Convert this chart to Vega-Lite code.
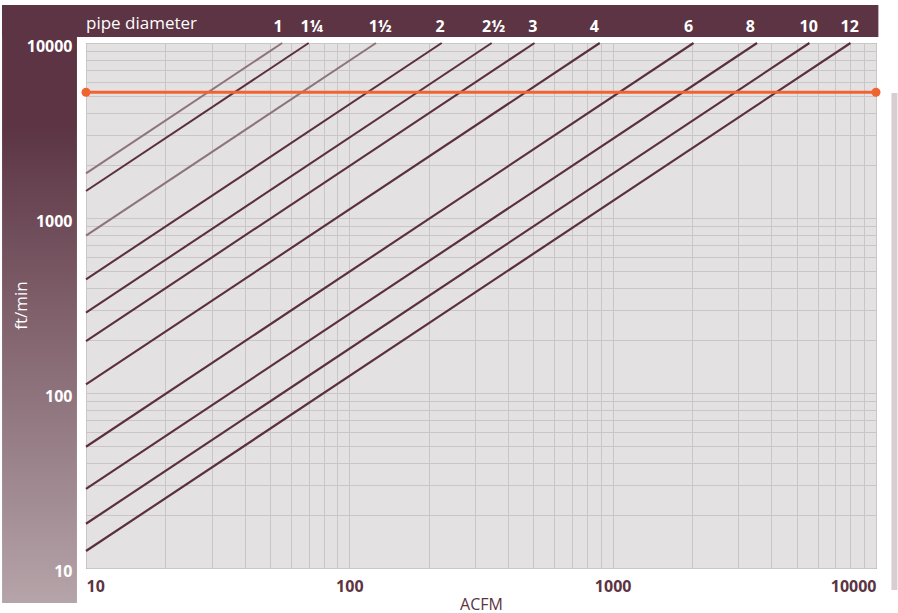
{
  "$schema": "https://vega.github.io/schema/vega-lite/v6.json",
  "width": 790,
  "height": 525,
  "autosize": {"type": "none"},
  "padding": {"left": 86, "top": 43, "right": 22, "bottom": 45},
  "background": "white",
  "config": {
    "font": "Open Sans",
    "view": {"fill": "#e4e1e2", "stroke": "#8e6f79", "strokeWidth": 1}
  },
  "resolve": {"axis": {"y": "independent"}},
  "datasets": {
    "lines": [
      {"pipe": "1", "acfm": 10, "fpm": 1800}, {"pipe": "1", "acfm": 55.6, "fpm": 10000},
      {"pipe": "1¼", "acfm": 10, "fpm": 1427}, {"pipe": "1¼", "acfm": 70.1, "fpm": 10000},
      {"pipe": "1½", "acfm": 10, "fpm": 792}, {"pipe": "1½", "acfm": 126.3, "fpm": 10000},
      {"pipe": "2", "acfm": 10, "fpm": 446}, {"pipe": "2", "acfm": 224.2, "fpm": 10000},
      {"pipe": "2½", "acfm": 10, "fpm": 288}, {"pipe": "2½", "acfm": 347.2, "fpm": 10000},
      {"pipe": "3", "acfm": 10, "fpm": 198}, {"pipe": "3", "acfm": 505, "fpm": 10000},
      {"pipe": "4", "acfm": 10, "fpm": 112}, {"pipe": "4", "acfm": 893, "fpm": 10000},
      {"pipe": "6", "acfm": 10, "fpm": 49.3}, {"pipe": "6", "acfm": 2028, "fpm": 10000},
      {"pipe": "8", "acfm": 10, "fpm": 28.3}, {"pipe": "8", "acfm": 3534, "fpm": 10000},
      {"pipe": "10", "acfm": 10, "fpm": 17.9}, {"pipe": "10", "acfm": 5587, "fpm": 10000},
      {"pipe": "12", "acfm": 10, "fpm": 12.5}, {"pipe": "12", "acfm": 8000, "fpm": 10000}
    ],
    "labels": [
      {"pipe": "1", "acfm": 53.6}, {"pipe": "1¼", "acfm": 72}, {"pipe": "1½", "acfm": 131},
      {"pipe": "2", "acfm": 221}, {"pipe": "2½", "acfm": 353}, {"pipe": "3", "acfm": 498},
      {"pipe": "4", "acfm": 851}, {"pipe": "6", "acfm": 1941}, {"pipe": "8", "acfm": 3336},
      {"pipe": "10", "acfm": 5554}, {"pipe": "12", "acfm": 7943}
    ],
    "limit": [{"acfm": 10, "fpm": 5230}, {"acfm": 10000, "fpm": 5230}],
    "one": [{}]
  },
  "layer": [
    {
      "data": {"name": "lines"},
      "mark": {"type": "line", "clip": false},
      "encoding": {
        "x": {
          "field": "acfm", "type": "quantitative",
          "scale": {"type": "log", "domain": [10, 10000], "nice": false},
          "axis": {
            "title": "ACFM",
            "values": [10, 20, 30, 40, 50, 60, 70, 80, 90, 100, 200, 300, 400, 500, 600, 700, 800, 900, 1000, 2000, 3000, 4000, 5000, 6000, 7000, 8000, 9000, 10000],
            "format": "d",
            "labelExpr": "(datum.value == 10 || datum.value == 100 || datum.value == 1000 || datum.value == 10000) ? datum.label : ''",
            "labelOverlap": false,
            "labelFlush": true,
            "grid": true, "gridColor": "#cac5c7", "gridWidth": 1,
            "domain": false, "ticks": false,
            "labelColor": "#5c3442", "labelFontSize": 16, "labelFontWeight": "bold", "labelPadding": 10,
            "titleColor": "#5c3442", "titleFontSize": 16, "titleFontWeight": "normal", "titlePadding": 2
          }
        },
        "y": {
          "field": "fpm", "type": "quantitative",
          "scale": {"type": "log", "domain": [10, 10000], "nice": false},
          "axis": {
            "title": null,
            "orient": "left",
            "values": [10, 20, 30, 40, 50, 60, 70, 80, 90, 100, 200, 300, 400, 500, 600, 700, 800, 900, 1000, 2000, 3000, 4000, 5000, 6000, 7000, 8000, 9000, 10000],
            "labels": false,
            "grid": true, "gridColor": "#cac5c7", "gridWidth": 1,
            "domain": false, "ticks": false, "zindex": 0
          }
        },
        "detail": {"field": "pipe"},
        "color": {
          "field": "pipe", "type": "nominal", "legend": null,
          "scale": {"domain": ["1", "1¼", "1½", "2", "2½", "3", "4", "6", "8", "10", "12"],
                    "range": ["#8d747b", "#5a2f3e", "#8d747b", "#5a2f3e", "#5a2f3e", "#5a2f3e", "#5a2f3e", "#5a2f3e", "#5a2f3e", "#5a2f3e", "#5a2f3e"]}
        },
        "strokeWidth": {
          "field": "pipe", "type": "nominal", "legend": null,
          "scale": {"domain": ["1", "1¼", "1½", "2", "2½", "3", "4", "6", "8", "10", "12"],
                    "range": [2, 2.2, 2, 2.4, 2.4, 2.4, 2.6, 3, 3, 3, 3]}
        }
      }
    },
    {
      "data": {"name": "one"},
      "mark": {"type": "rect", "clip": false, "color": {"gradient": "linear", "x1": 0, "y1": 0, "x2": 0, "y2": 1, "stops": [{"offset": 0, "color": "#5c3443"}, {"offset": 0.2, "color": "#5c3443"}, {"offset": 1, "color": "#b5a4a9"}]}},
      "encoding": {
        "x": {"datum": 4.8, "type": "quantitative"},
        "x2": {"datum": 9.24},
        "y": {"datum": 16485, "type": "quantitative", "axis": null},
        "y2": {"datum": 6.31}
      }
    },
    {
      "data": {"name": "one"},
      "mark": {"type": "rect", "clip": false, "color": "#5c3443"},
      "encoding": {
        "x": {"datum": 4.8, "type": "quantitative"},
        "x2": {"datum": 10210},
        "y": {"datum": 16485, "type": "quantitative", "axis": null},
        "y2": {"datum": 10820}
      }
    },
    {
      "data": {"name": "one"},
      "mark": {"type": "rect", "clip": false, "color": "#d8cdd0"},
      "encoding": {
        "x": {"datum": 11443, "type": "quantitative"},
        "x2": {"datum": 12058},
        "y": {"datum": 5179, "type": "quantitative", "axis": null},
        "y2": {"datum": 7.48}
      }
    },
    {
      "data": {"name": "limit"},
      "mark": {"type": "line", "color": "#ef6430", "strokeWidth": 3, "clip": false},
      "encoding": {
        "x": {"field": "acfm", "type": "quantitative"},
        "y": {"field": "fpm", "type": "quantitative", "axis": null}
      }
    },
    {
      "data": {"name": "limit"},
      "mark": {"type": "point", "filled": true, "color": "#ef6430", "size": 80, "opacity": 1, "clip": false},
      "encoding": {
        "x": {"field": "acfm", "type": "quantitative"},
        "y": {"field": "fpm", "type": "quantitative", "axis": null}
      }
    },
    {
      "data": {"name": "labels"},
      "mark": {"type": "text", "clip": false, "color": "white", "fontSize": 16, "fontWeight": "bold", "align": "center", "baseline": "alphabetic"},
      "encoding": {
        "x": {"field": "acfm", "type": "quantitative"},
        "y": {"datum": 11604, "type": "quantitative", "axis": null},
        "text": {"field": "pipe"}
      }
    },
    {
      "data": {"name": "one"},
      "mark": {"type": "text", "clip": false, "color": "white", "fontSize": 17, "align": "left", "baseline": "alphabetic", "text": "pipe diameter"},
      "encoding": {
        "x": {"datum": 10, "type": "quantitative"},
        "y": {
          "datum": 11946, "type": "quantitative",
          "axis": {
            "title": "ft/min",
            "orient": "left",
            "zindex": 1,
            "values": [10, 100, 1000, 10000],
            "format": "d",
            "labelOverlap": false,
            "labelOffset": 3,
            "grid": false,
            "domain": false, "ticks": false,
            "labelColor": "white", "labelFontSize": 16, "labelFontWeight": "bold", "labelPadding": 14,
            "titleColor": "white", "titleFontSize": 17, "titleFontWeight": "normal",
            "titleX": -65, "titleY": 262, "titleAlign": "center", "titleBaseline": "middle"
          }
        }
      }
    }
  ]
}
